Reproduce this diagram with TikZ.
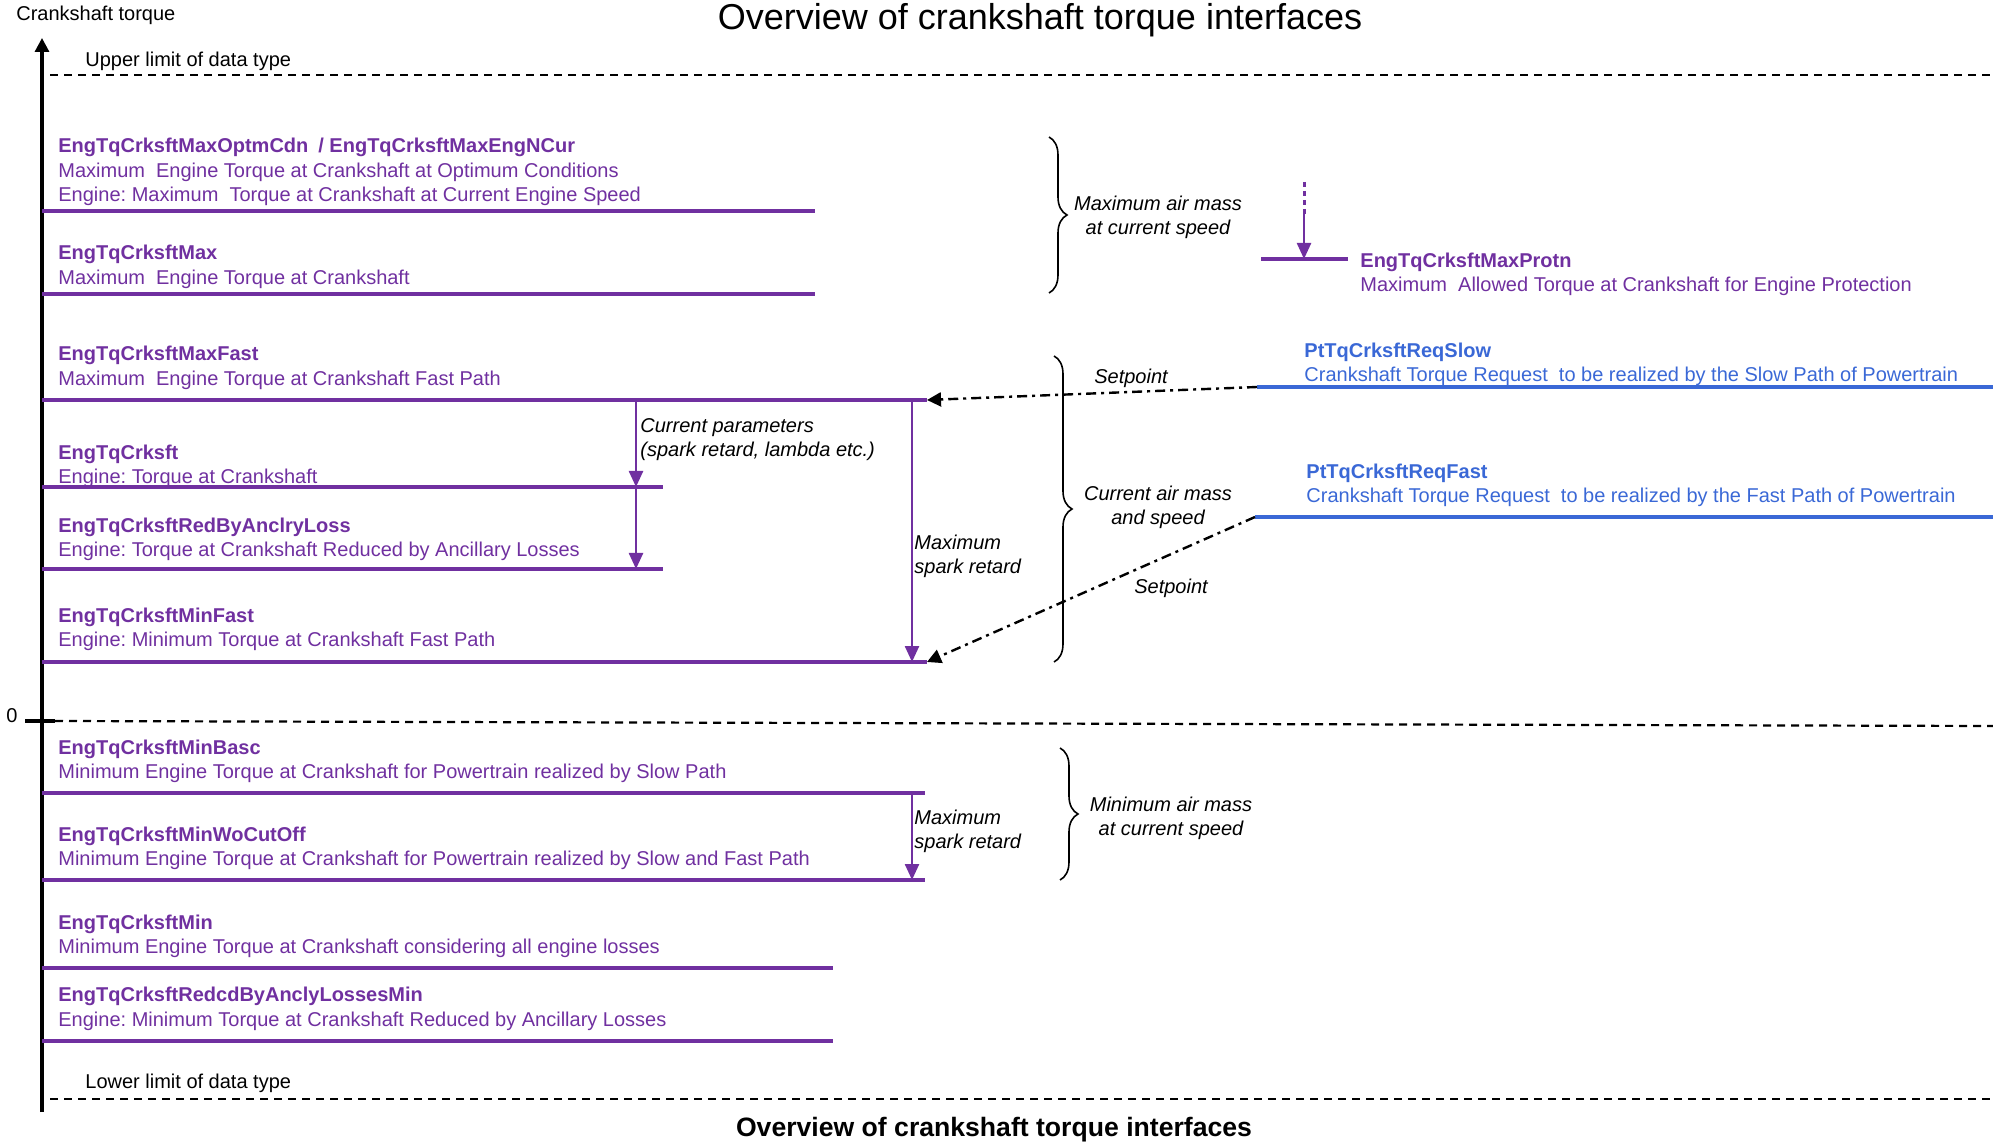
\documentclass[tikz,border=0pt]{standalone}
\usepackage{fontspec}
\setmainfont{Liberation Sans}
\frenchspacing
\usetikzlibrary{arrows.meta,decorations.pathreplacing}
\definecolor{tqpurple}{RGB}{112,48,160}
\definecolor{tqblue}{RGB}{58,104,214}
\tikzset{
    lvl/.style={draw=tqpurple, line width=1.9pt},
    req/.style={draw=tqblue, line width=2pt},
    limit/.style={draw=black, line width=1.1pt, dash pattern=on 4pt off 3pt},
    sig/.style={anchor=west, inner sep=0pt, text height=7.2pt, text depth=0pt, font=\bfseries, text=tqpurple},
    desc/.style={anchor=west, inner sep=0pt, text height=7.2pt, text depth=0pt, text=tqpurple},
    note/.style={inner sep=0pt, font=\itshape, align=center},
    tqshift/.style={draw=tqpurple, line width=1.2pt, -{Triangle[length=8pt,width=7pt]}},
    setp/.style={line width=1.2pt, dash pattern=on 5pt off 2.5pt on 1.5pt off 2.5pt, -{Triangle[length=7pt,width=7pt]}},
    brc/.style={decorate, decoration={brace, amplitude=9pt}, line width=0.8pt}
}
\begin{document}
\begin{tikzpicture}[x=0.5pt, y=-0.5pt]
    \useasboundingbox (0,0) rectangle (1993,1144);

    \node [font=\fontsize{18}{21}\selectfont] (title) at (1040,20) {Overview of crankshaft torque interfaces};
    \node [font=\fontsize{13.3}{16}\selectfont\bfseries] (caption) at (994,1130) {Overview of crankshaft torque interfaces};

    % axis and limits
    \draw [line width=1.6pt, -{Triangle[length=7pt,width=7pt]}] (42,1112) -- (42,38);
    \node [anchor=west, inner sep=0pt] (axislbl) at (16,15) {Crankshaft torque};
    \node [anchor=west, inner sep=0pt] (upper) at (85,61) {Upper limit of data type};
    \node [anchor=west, inner sep=0pt] (lower) at (85,1083) {Lower limit of data type};
    \node [inner sep=0pt] (zero) at (12,716) {0};
    \draw [line width=1.6pt] (25,721) -- (55,721);
    \draw [limit] (50,75) -- (1993,75);
    \draw [limit] (55,721) -- (1993,726);
    \draw [limit] (50,1099) -- (1993,1099);

    % torque levels
    \draw [lvl] (42,211) -- (815,211) coordinate (maxoptm);
    \draw [lvl] (42,294) -- (815,294) coordinate (max);
    \draw [lvl] (42,400) -- (927,400) coordinate (maxfast);
    \draw [lvl] (42,487) -- (663,487) coordinate (crksft);
    \draw [lvl] (42,569) -- (663,569) coordinate (ancl);
    \draw [lvl] (42,662) -- (927,662) coordinate (minfast);
    \draw [lvl] (42,793) -- (925,793) coordinate (minbasc);
    \draw [lvl] (42,880) -- (925,880) coordinate (minwo);
    \draw [lvl] (42,968) -- (833,968) coordinate (min);
    \draw [lvl] (42,1041) -- (833,1041) coordinate (minancl);

    \node [sig] (maxoptmN) at (58,145) {EngTqCrksftMaxOptmCdn\enspace/ EngTqCrksftMaxEngNCur};
    \node [desc] (maxoptmD) at (58,170) {Maximum\ \ Engine Torque at Crankshaft at Optimum Conditions};
    \node [desc] (maxengnD) at (58,194) {Engine: Maximum\ \ Torque at Crankshaft at Current Engine Speed};
    \node [sig] (maxN) at (58,252) {EngTqCrksftMax};
    \node [desc] (maxD) at (58,277) {Maximum\ \ Engine Torque at Crankshaft};
    \node [sig] (maxfastN) at (58,353) {EngTqCrksftMaxFast};
    \node [desc] (maxfastD) at (58,378) {Maximum\ \ Engine Torque at Crankshaft Fast Path};
    \node [sig] (crksftN) at (58,452) {EngTqCrksft};
    \node [desc] (crksftD) at (58,476) {Engine: Torque at Crankshaft};
    \node [sig] (anclN) at (58,525) {EngTqCrksftRedByAnclryLoss};
    \node [desc] (anclD) at (58,549) {Engine: Torque at Crankshaft Reduced by Ancillary Losses};
    \node [sig] (minfastN) at (58,615) {EngTqCrksftMinFast};
    \node [desc] (minfastD) at (58,639) {Engine: Minimum Torque at Crankshaft Fast Path};
    \node [sig] (minbascN) at (58,747) {EngTqCrksftMinBasc};
    \node [desc] (minbascD) at (58,771) {Minimum Engine Torque at Crankshaft for Powertrain realized by Slow Path};
    \node [sig] (minwoN) at (58,834) {EngTqCrksftMinWoCutOff};
    \node [desc] (minwoD) at (58,858) {Minimum Engine Torque at Crankshaft for Powertrain realized by Slow and Fast Path};
    \node [sig] (minN) at (58,922) {EngTqCrksftMin};
    \node [desc] (minD) at (58,946) {Minimum Engine Torque at Crankshaft considering all engine losses};
    \node [sig] (minanclN) at (58,994) {EngTqCrksftRedcdByAnclyLossesMin};
    \node [desc] (minanclD) at (58,1019) {Engine: Minimum Torque at Crankshaft Reduced by Ancillary Losses};

    % shifts between levels
    \coordinate (cur) at (636,0);
    \coordinate (spark) at (912,0);
    \draw [tqshift] (cur |- maxfast) -- (cur |- crksft);
    \draw [tqshift] (cur |- crksft) -- (cur |- ancl);
    \draw [tqshift] (spark |- maxfast) -- (spark |- minfast);
    \draw [tqshift] (spark |- minbasc) -- (spark |- minwo);
    \node [note, anchor=west, align=left] (curnote) at (640,440) {Current parameters\\(spark retard, lambda etc.)};
    \node [note, anchor=west, align=left] (sparknote) at (914,556) {Maximum\\spark retard};
    \node [note, anchor=west, align=left] (sparknote2) at (914,831) {Maximum\\spark retard};

    % air mass braces
    \draw [brc] (1049,137) -- (1049,293);
    \draw [brc] (1054,356) -- (1054,662);
    \draw [brc] (1060,748) -- (1060,880);
    \node [note] (airmax) at (1158,217) {Maximum air mass\\at current speed};
    \node [note] (aircur) at (1158,507) {Current air mass\\and speed};
    \node [note] (airmin) at (1171,818) {Minimum air mass\\at current speed};

    % protection limit
    \draw [lvl] (1261,259) -- (1348,259);
    \coordinate (protn) at (1304,259);
    \draw [draw=tqpurple, line width=1.5pt, dash pattern=on 2.5pt off 2pt] (1304,182) -- (1304,214);
    \draw [tqshift] (1304,214) -- (protn);
    \node [sig] (protnN) at (1360,260) {EngTqCrksftMaxProtn};
    \node [desc] (protnD) at (1360,284) {Maximum\ \ Allowed Torque at Crankshaft for Engine Protection};

    % powertrain requests
    \draw [req] (1257,387) coordinate (slow) -- (1993,387);
    \draw [req] (1255,517) coordinate (fast) -- (1993,517);
    \node [sig, text=tqblue] (slowN) at (1304,350) {PtTqCrksftReqSlow};
    \node [desc, text=tqblue] (slowD) at (1304,374) {Crankshaft Torque Request\ \ to be realized by the Slow Path of Powertrain};
    \node [sig, text=tqblue] (fastN) at (1306,471) {PtTqCrksftReqFast};
    \node [desc, text=tqblue] (fastD) at (1306,495) {Crankshaft Torque Request\ \ to be realized by the Fast Path of Powertrain};
    \draw [setp] (slow) -- (maxfast);
    \draw [setp] (fast) -- (minfast);
    \node [note] (setslow) at (1131,378) {Setpoint};
    \node [note] (setfast) at (1171,588) {Setpoint};

\end{tikzpicture}
\end{document}
